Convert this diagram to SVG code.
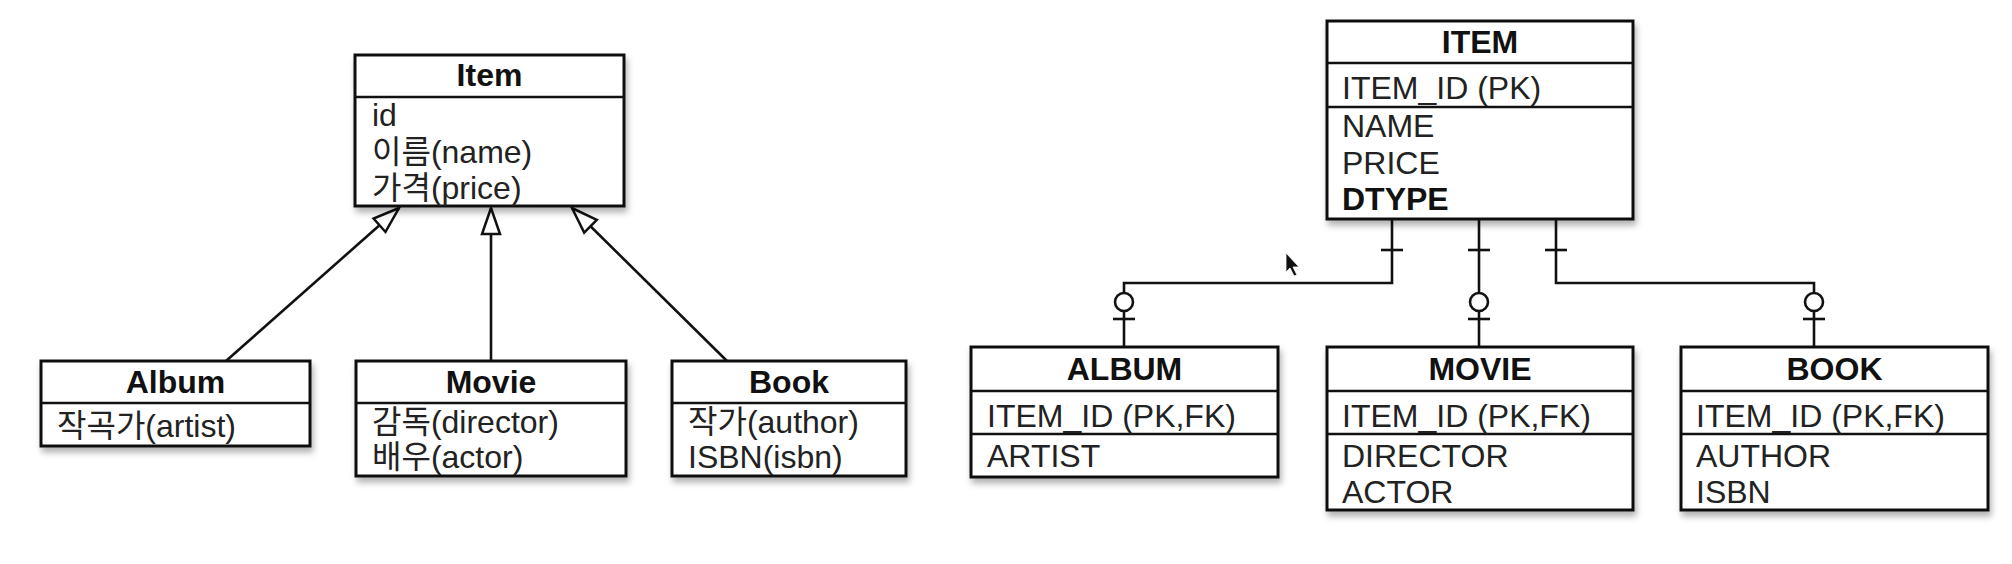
<svg xmlns="http://www.w3.org/2000/svg" width="2012" height="564" viewBox="0 0 2012 564">
<defs>
<filter id="sh" x="-5%" y="-5%" width="115%" height="130%">
<feDropShadow dx="2" dy="5" stdDeviation="3" flood-color="#000" flood-opacity="0.3"/>
</filter>
<marker id="tri" markerUnits="userSpaceOnUse" markerWidth="30" markerHeight="22" viewBox="-28 -11 30 22" refX="0" refY="0" orient="auto">
<path d="M0,0 L-26,-9 L-26,9 Z" fill="#fff" stroke="#111" stroke-width="2.5" stroke-linejoin="miter"/>
</marker>
</defs>
<style>
.box{fill:#fff;stroke:#111;stroke-width:3;filter:url(#sh)}
.div{stroke:#111;stroke-width:2.6}
.t{font-family:"Liberation Sans","Noto Sans CJK KR",sans-serif;font-size:32px;font-weight:bold;fill:#111;text-anchor:middle}
.a{font-family:"Liberation Sans","Noto Sans CJK KR",sans-serif;font-size:32px;fill:#222}
.ab{font-family:"Liberation Sans","Noto Sans CJK KR",sans-serif;font-size:32px;font-weight:bold;fill:#111}
.c{fill:none;stroke:#111;stroke-width:2.6}
.o{fill:#fff;stroke:#111;stroke-width:2.6}
</style>

<g id="connectors">
<line class="c" x1="226" y1="361" x2="399" y2="208" marker-end="url(#tri)"/>
<line class="c" x1="491" y1="361" x2="491" y2="208" marker-end="url(#tri)"/>
<line class="c" x1="727" y1="361" x2="572" y2="208" marker-end="url(#tri)"/>
<polyline class="c" points="1392,219 1392,283 1124,283 1124,347"/>
<line class="c" x1="1381" y1="250" x2="1403" y2="250"/>
<circle class="o" cx="1124" cy="302" r="9"/>
<line class="c" x1="1113" y1="319" x2="1135" y2="319"/>
<line class="c" x1="1479" y1="219" x2="1479" y2="347"/>
<line class="c" x1="1468" y1="250" x2="1490" y2="250"/>
<circle class="o" cx="1479" cy="302" r="9"/>
<line class="c" x1="1468" y1="319" x2="1490" y2="319"/>
<polyline class="c" points="1556,219 1556,283 1814,283 1814,347"/>
<line class="c" x1="1545" y1="250" x2="1567" y2="250"/>
<circle class="o" cx="1814" cy="302" r="9"/>
<line class="c" x1="1803" y1="319" x2="1825" y2="319"/>
</g>

<g id="uml-item">
<rect class="box" x="355" y="55" width="269" height="151"/>
<line class="div" x1="355" y1="97" x2="624" y2="97"/>
<text class="t" x="489.5" y="86">Item</text>
<text class="a" x="372" y="126">id</text>
<text class="a" x="372" y="163">이름(name)</text>
<text class="a" x="372" y="199">가격(price)</text>
</g>
<g id="uml-album">
<rect class="box" x="41" y="361" width="269" height="85"/>
<line class="div" x1="41" y1="403" x2="310" y2="403"/>
<text class="t" x="175.5" y="393">Album</text>
<text class="a" x="57" y="437">작곡가(artist)</text>
</g>
<g id="uml-movie">
<rect class="box" x="356" y="361" width="270" height="115"/>
<line class="div" x1="356" y1="403" x2="626" y2="403"/>
<text class="t" x="491" y="393">Movie</text>
<text class="a" x="372" y="433">감독(director)</text>
<text class="a" x="372" y="468">배우(actor)</text>
</g>
<g id="uml-book">
<rect class="box" x="672" y="361" width="234" height="115"/>
<line class="div" x1="672" y1="403" x2="906" y2="403"/>
<text class="t" x="789" y="393">Book</text>
<text class="a" x="688" y="433">작가(author)</text>
<text class="a" x="688" y="468">ISBN(isbn)</text>
</g>

<g id="er-item">
<rect class="box" x="1327" y="21" width="306" height="198"/>
<line class="div" x1="1327" y1="63" x2="1633" y2="63"/>
<line class="div" x1="1327" y1="107" x2="1633" y2="107"/>
<text class="t" x="1480" y="53">ITEM</text>
<text class="a" x="1342" y="99">ITEM_ID (PK)</text>
<text class="a" x="1342" y="137">NAME</text>
<text class="a" x="1342" y="174">PRICE</text>
<text class="ab" x="1342" y="210">DTYPE</text>
</g>
<g id="er-album">
<rect class="box" x="971" y="347" width="307" height="130"/>
<line class="div" x1="971" y1="391" x2="1278" y2="391"/>
<line class="div" x1="971" y1="434" x2="1278" y2="434"/>
<text class="t" x="1124.5" y="380">ALBUM</text>
<text class="a" x="987" y="427">ITEM_ID (PK,FK)</text>
<text class="a" x="987" y="467">ARTIST</text>
</g>
<g id="er-movie">
<rect class="box" x="1327" y="347" width="306" height="163"/>
<line class="div" x1="1327" y1="391" x2="1633" y2="391"/>
<line class="div" x1="1327" y1="434" x2="1633" y2="434"/>
<text class="t" x="1480" y="380">MOVIE</text>
<text class="a" x="1342" y="427">ITEM_ID (PK,FK)</text>
<text class="a" x="1342" y="467">DIRECTOR</text>
<text class="a" x="1342" y="503">ACTOR</text>
</g>
<g id="er-book">
<rect class="box" x="1681" y="347" width="307" height="163"/>
<line class="div" x1="1681" y1="391" x2="1988" y2="391"/>
<line class="div" x1="1681" y1="434" x2="1988" y2="434"/>
<text class="t" x="1834.5" y="380">BOOK</text>
<text class="a" x="1696" y="427">ITEM_ID (PK,FK)</text>
<text class="a" x="1696" y="467">AUTHOR</text>
<text class="a" x="1696" y="503">ISBN</text>
</g>

<path d="M1286,253 L1286,272 L1290,268 L1294,276 L1297,275 L1293,267 L1299,267 Z" fill="#111" stroke="#fff" stroke-width="0.8"/>
</svg>
